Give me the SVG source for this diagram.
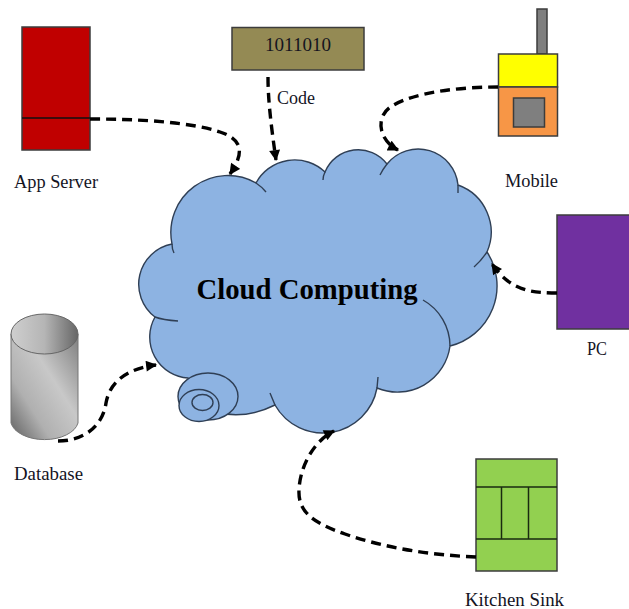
<svg xmlns="http://www.w3.org/2000/svg" width="629" height="609" viewBox="0 0 629 609">
<style>
text{font-family:"Liberation Serif","Noto Serif",serif;fill:#14141f;text-anchor:middle}
.lbl{font-size:18px}
.box{stroke:#3c3c3c;stroke-width:1.5}
.cl{fill:#8DB3E2;stroke:#2f3f55;stroke-width:1.4}
.tail{fill:none;stroke:#2f3f55;stroke-width:1.4}
.con{fill:none;stroke:#000;stroke-width:3.4;stroke-dasharray:10 6;marker-end:url(#ah)}
</style>
<defs>
<marker id="ah" viewBox="0 0 10 10" refX="9" refY="5" markerWidth="12" markerHeight="11" markerUnits="userSpaceOnUse" orient="auto"><path d="M0,0 L10,5 L0,10 Z" fill="#000"/></marker>
<linearGradient id="cyl" x1="0" y1="1" x2="1" y2="0"><stop offset="0" stop-color="#5f5f5f"/><stop offset=".3" stop-color="#b0b0b0"/><stop offset=".6" stop-color="#c8c8c8"/><stop offset="1" stop-color="#7e7e7e"/></linearGradient>
<linearGradient id="cyt" x1="0" y1="0" x2="1" y2="0"><stop offset="0" stop-color="#cfcfcf"/><stop offset=".5" stop-color="#b5b5b5"/><stop offset="1" stop-color="#666"/></linearGradient>
</defs>
<g id="cloud">
<path class="cl" d="M172,244 A57,57 0 0 1 256,183 A44,44 0 0 1 325,172 A36,36 0 0 1 387,164 A40,40 0 0 1 458,185 A50,50 0 0 1 487,252 A62,62 0 0 1 450,346 A53,53 0 0 1 377,388 A55,55 0 0 1 275,405 Q245,420 215,412 L188,378 A41,41 0 0 1 155,317 A41,41 0 0 1 172,244 Z"/>
<path class="tail" d="M172,244 Q172,249 174,253 M256,183 Q262,187 266,192 M325,172 Q323,176 323,180 M387,164 Q383,169 380,175 M458,185 L458,193 M487,252 Q481,261 474,267 M423,300 A53,53 0 0 1 450,346 M377,388 L378,377 M275,405 L270,393 M155,317 Q163,320 178,321"/>
<ellipse class="cl" cx="208" cy="396.500" rx="30" ry="23.500"/>
<ellipse class="cl" cx="199" cy="405.500" rx="20" ry="16"/>
<ellipse class="cl" cx="202.500" cy="402.500" rx="10.500" ry="8"/>
<text x="307" y="299" font-size="29" font-weight="bold" style="fill:#000" textLength="221" lengthAdjust="spacingAndGlyphs">Cloud Computing</text>
</g>
<g id="app-server">
<rect class="box" x="22" y="27" width="68" height="123" fill="#C00000"/>
<line x1="22" y1="118" x2="90" y2="118" stroke="#111" stroke-width="1.5"/>
<text class="lbl" x="56" y="188" textLength="84" lengthAdjust="spacingAndGlyphs">App Server</text>
</g>
<g id="code">
<rect class="box" x="232" y="27.500" width="132" height="42.500" fill="#948A54"/>
<text x="298" y="51" font-size="18.500" textLength="66" lengthAdjust="spacingAndGlyphs">1011010</text>
<text class="lbl" x="296" y="104" textLength="38" lengthAdjust="spacingAndGlyphs">Code</text>
</g>
<g id="mobile">
<rect class="box" x="537" y="9" width="10" height="45" fill="#7F7F7F"/>
<rect class="box" x="498.500" y="54" width="59" height="33" fill="#FFFF00"/>
<rect class="box" x="498.500" y="87" width="59" height="49" fill="#F79646"/>
<rect class="box" x="513.500" y="98" width="31" height="29" fill="#7F7F7F"/>
<text class="lbl" x="531.500" y="187" textLength="53" lengthAdjust="spacingAndGlyphs">Mobile</text>
</g>
<g id="pc">
<rect class="box" x="557" y="215" width="74" height="114" fill="#7030A0"/>
<text class="lbl" x="597" y="355" textLength="20" lengthAdjust="spacingAndGlyphs">PC</text>
</g>
<g id="database">
<path d="M11,334 V423 A34,20 0 0 0 78,423 V334 Z" fill="url(#cyl)" stroke="#777" stroke-width="1"/>
<ellipse cx="44.500" cy="334" rx="33.500" ry="20" fill="url(#cyt)" stroke="#666" stroke-width="1"/>
<text class="lbl" x="48.500" y="480" textLength="69" lengthAdjust="spacingAndGlyphs">Database</text>
</g>
<g id="kitchen-sink">
<rect class="box" x="476" y="459" width="81" height="112" fill="#92D050"/>
<path d="M476,487 H557 M476,539 H557 M501.500,487 V539 M528.500,487 V539" stroke="#1a2a10" stroke-width="1.500" fill="none"/>
<text class="lbl" x="514.500" y="606" textLength="99" lengthAdjust="spacingAndGlyphs">Kitchen Sink</text>
</g>
<g id="connectors">
<path class="con" d="M90,119 C140,119 190,122 220,132 C245,140 243,155 230,174"/>
<path class="con" d="M268,77 C268,100 271,125 276,160"/>
<path class="con" d="M498,87 C460,87 415,92 392,106 C375,116 378,140 398,150"/>
<path class="con" d="M557,293 C530,293 510,290 492,264"/>
<path class="con" d="M58,441 C85,441 103,425 106,403 C110,380 130,368 156,365"/>
<path class="con" d="M476,557 C430,555 385,548 345,534 C310,522 298,510 299,490 C300,465 315,440 334,431"/>
</g>
</svg>
